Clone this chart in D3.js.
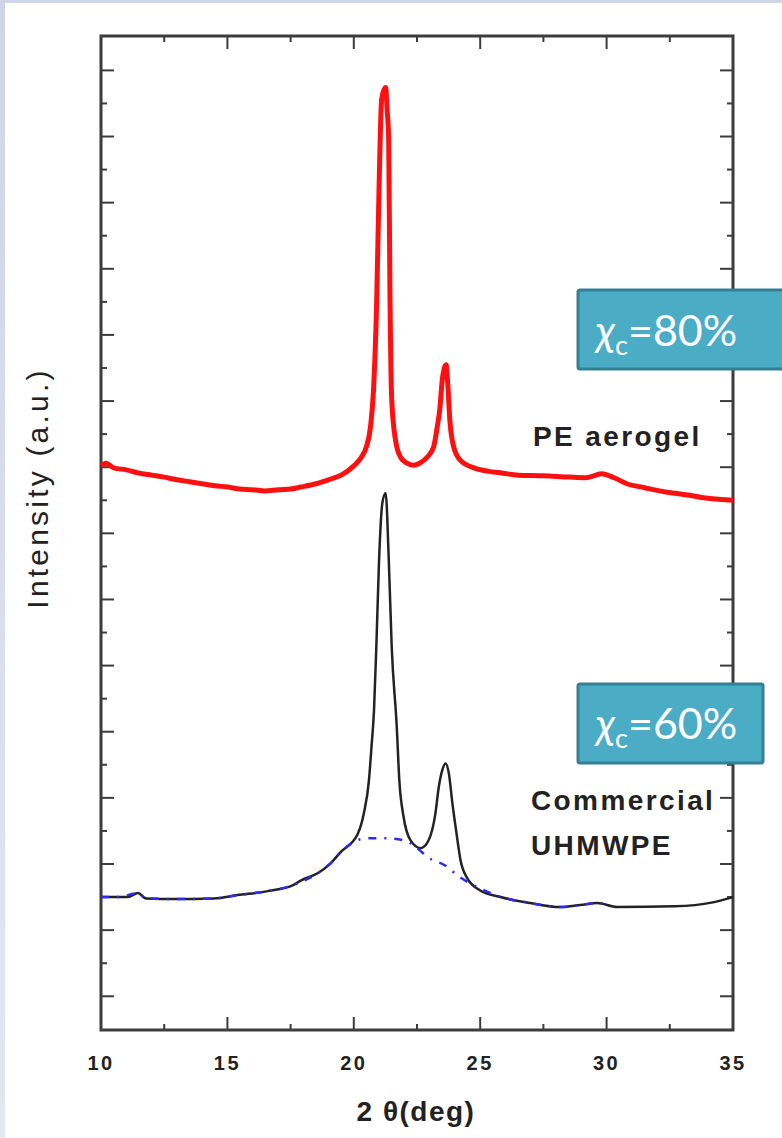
<!DOCTYPE html>
<html>
<head>
  <meta charset="utf-8">
  <title>XRD PE aerogel vs UHMWPE</title>
  <script src="https://d3js.org/d3.v7.min.js"></script>
  <style>
    body { margin: 0; background: #fff; }
    svg { display: block; }
  </style>
</head>
<body>
  <svg width="782" height="1138"></svg>

  <script>
    // PE aerogel (red)
    const aerogelAngle = [10.0, 10.2, 10.5, 11.0, 11.5, 12.0, 12.5, 13.0, 13.5, 14.0, 14.5, 15.0, 15.5, 16.0, 16.5,
      17.0, 17.5, 17.9, 18.5, 19.0, 19.5, 20.0, 20.3, 20.5, 20.66, 20.78, 20.9, 21.0, 21.1, 21.2, 21.26, 21.32,
      21.38, 21.43, 21.5, 21.65, 21.85, 22.1, 22.36, 22.6, 22.9, 23.16, 23.3, 23.4, 23.5, 23.6, 23.65, 23.72,
      23.8, 23.95, 24.2, 24.75, 25.3, 25.9, 26.5, 27.5, 28.5, 29.2, 29.8, 30.3, 30.8, 31.5, 32.4, 33.2, 34.0, 35.0];
    const aerogelIntensity = [8.02, 8.06, 7.99, 7.96, 7.91, 7.88, 7.85, 7.81, 7.78, 7.75, 7.72, 7.70, 7.67, 7.66, 7.64,
      7.66, 7.67, 7.70, 7.75, 7.81, 7.88, 8.02, 8.15, 8.31, 8.61, 9.17, 10.42, 12.24, 13.56, 13.71, 13.74, 13.40,
      12.95, 10.64, 9.02, 8.41, 8.15, 8.06, 8.03, 8.06, 8.15, 8.31, 8.61, 8.87, 9.32, 9.52, 9.55, 9.24,
      8.71, 8.31, 8.11, 7.99, 7.94, 7.91, 7.88, 7.87, 7.85, 7.84, 7.90, 7.84, 7.75, 7.69, 7.62, 7.58, 7.53, 7.50];

    // Commercial UHMWPE (black)
    const uhmwpeAngle = [10.0, 10.67, 11.06, 11.46, 11.78, 12.9, 14.46, 15.4, 16.6, 17.6, 17.9, 18.57, 19.08, 19.48,
      20.15, 20.4, 20.6, 20.7, 20.8, 20.9, 21.0, 21.13, 21.26, 21.38, 21.5, 21.7, 21.8, 21.97, 22.24, 22.64, 22.96,
      23.23, 23.36, 23.5, 23.63, 23.76, 23.9, 24.06, 24.22, 24.48, 25.0, 25.8, 26.98, 28.17, 28.96, 29.63, 30.42,
      32.7, 34.2, 35.0];
    const uhmwpeIntensity = [1.50, 1.50, 1.50, 1.56, 1.48, 1.47, 1.48, 1.53, 1.59, 1.68, 1.75, 1.86, 2.01, 2.18,
      2.45, 2.77, 3.27, 3.77, 4.33, 5.39, 6.60, 7.46, 7.61, 6.64, 5.28, 4.07, 3.27, 2.71, 2.36, 2.24, 2.36,
      2.77, 3.16, 3.42, 3.52, 3.37, 2.92, 2.47, 2.06, 1.79, 1.60, 1.50, 1.41, 1.35, 1.38, 1.41, 1.35,
      1.36, 1.42, 1.50];

    // amorphous halo fit (blue dash-dot)
    const haloAngle = [10.0, 10.67, 11.46, 11.78, 12.9, 14.46, 15.4, 16.6, 17.6, 18.57, 19.08, 19.48, 20.15, 20.6,
      21.2, 21.97, 22.6, 22.9, 23.6, 24.2, 25.0, 25.6, 26.98, 28.17, 28.96, 29.63, 30.0];
    const haloIntensity = [1.50, 1.50, 1.56, 1.48, 1.47, 1.48, 1.53, 1.59, 1.68, 1.86, 2.01, 2.18, 2.36, 2.39,
      2.39, 2.36, 2.21, 2.11, 1.98, 1.80, 1.63, 1.53, 1.41, 1.35, 1.38, 1.41, 1.39];

    const xTicks = [10, 15, 20, 25, 30, 35];
    const xMinorTicks = [12.5, 17.5, 22.5, 27.5, 32.5];
    const yTicks = [0, 1, 2, 3, 4, 5, 6, 7, 8, 9, 10, 11, 12, 13, 14];
    const yMinorTicks = [0.5, 1.5, 2.5, 3.5, 4.5, 5.5, 6.5, 7.5, 8.5, 9.5, 10.5, 11.5, 12.5, 13.5];

    const crystallinity = ["80%", "60%"];

    const svg = d3.select("svg");
    const W = 782, H = 1138;

    // slide background strip
    const defs = svg.append("defs");
    const grad = defs.append("linearGradient").attr("id", "bg").attr("x1", 0).attr("y1", 0).attr("x2", 0).attr("y2", 1);
    grad.append("stop").attr("offset", 0).attr("stop-color", "#cfd4e7");
    grad.append("stop").attr("offset", 1).attr("stop-color", "#e3e7f0");
    svg.append("rect").attr("width", W).attr("height", H).attr("fill", "url(#bg)");
    svg.append("rect").attr("x", 5).attr("y", 3).attr("width", W - 5).attr("height", H - 3).attr("fill", "#fff");

    const pLeft = 101, pRight = 733, pTop = 36, pBottom = 1030;

    const x = d3.scaleLinear().domain([10, 35]).range([pLeft, pRight]);
    const y = d3.scaleLinear().domain([-0.51, 14.52]).range([pBottom, pTop]);

    const frameColor = "#3c3c3c";
    const g = svg.append("g");

    // ticks on all four sides
    const majorLen = 13, minorLen = 6;
    const yt = [...yTicks.map(v => ({ v, len: majorLen })), ...yMinorTicks.map(v => ({ v, len: minorLen }))];
    const xt = [...xTicks.map(v => ({ v, len: majorLen })), ...xMinorTicks.map(v => ({ v, len: minorLen }))];

    g.selectAll("line.yl").data(yt).enter().append("line")
      .attr("x1", pLeft).attr("x2", d => pLeft + d.len)
      .attr("y1", d => y(d.v)).attr("y2", d => y(d.v))
      .attr("stroke", frameColor).attr("stroke-width", 2);
    g.selectAll("line.yr").data(yt).enter().append("line")
      .attr("x1", pRight).attr("x2", d => pRight - d.len)
      .attr("y1", d => y(d.v)).attr("y2", d => y(d.v))
      .attr("stroke", frameColor).attr("stroke-width", 2);
    g.selectAll("line.xb").data(xt).enter().append("line")
      .attr("x1", d => x(d.v)).attr("x2", d => x(d.v))
      .attr("y1", pBottom).attr("y2", d => pBottom - d.len)
      .attr("stroke", frameColor).attr("stroke-width", 2);
    g.selectAll("line.xt").data(xt).enter().append("line")
      .attr("x1", d => x(d.v)).attr("x2", d => x(d.v))
      .attr("y1", pTop).attr("y2", d => pTop + d.len)
      .attr("stroke", frameColor).attr("stroke-width", 2);

    g.append("rect")
      .attr("x", pLeft).attr("y", pTop)
      .attr("width", pRight - pLeft).attr("height", pBottom - pTop)
      .attr("fill", "none").attr("stroke", frameColor).attr("stroke-width", 3);

    // tick labels
    g.selectAll("text.xtl").data(xTicks).enter().append("text")
      .attr("x", d => x(d)).attr("y", 1070)
      .attr("text-anchor", "middle")
      .attr("font-family", "Liberation Sans, Arial, sans-serif")
      .attr("font-weight", "bold").attr("font-size", 20)
      .attr("letter-spacing", 2.5)
      .attr("fill", "#222")
      .text(d => d);

    // axis titles
    svg.append("text")
      .attr("x", 416).attr("y", 1121)
      .attr("text-anchor", "middle")
      .attr("font-family", "Liberation Sans, Arial, sans-serif")
      .attr("font-weight", "bold").attr("font-size", 28)
      .attr("letter-spacing", 1.5)
      .attr("fill", "#222")
      .text("2 θ(deg)");

    svg.append("text")
      .attr("transform", "translate(48,488) rotate(-90)")
      .attr("text-anchor", "middle")
      .attr("font-family", "Liberation Sans, Arial, sans-serif")
      .attr("font-size", 30).attr("letter-spacing", 3.2)
      .attr("fill", "#222")
      .text("Intensity (a.u.)");

    const line = d3.line()
      .x(d => x(d[0]))
      .y(d => y(d[1]))
      .curve(d3.curveMonotoneX);

    const redPts = aerogelAngle.map((a, i) => [a, aerogelIntensity[i]]);
    const blackPts = uhmwpeAngle.map((a, i) => [a, uhmwpeIntensity[i]]);
    const bluePts = haloAngle.map((a, i) => [a, haloIntensity[i]]);

    g.append("path").attr("d", line(redPts))
      .attr("fill", "none").attr("stroke", "#ff1010").attr("stroke-width", 5)
      .attr("stroke-linejoin", "round");

    g.append("path").attr("d", line(blackPts))
      .attr("fill", "none").attr("stroke", "#222").attr("stroke-width", 2.5)
      .attr("stroke-linejoin", "round");

    g.append("path").attr("d", line(bluePts))
      .attr("fill", "none").attr("stroke", "#2a2aff").attr("stroke-width", 2.5)
      .attr("stroke-dasharray", "8,8,2,8");

    // curve labels
    const labelFont = "Liberation Sans, Arial, sans-serif";
    const labels = [
      { t: "PE aerogel", x: 533, y: 446 },
      { t: "Commercial", x: 531, y: 810 },
      { t: "UHMWPE", x: 531, y: 855 }
    ];
    svg.selectAll("text.lab").data(labels).enter().append("text")
      .attr("x", d => d.x).attr("y", d => d.y)
      .attr("font-family", labelFont).attr("font-weight", "bold")
      .attr("font-size", 28).attr("letter-spacing", 2.4)
      .attr("fill", "#222")
      .text(d => d.t);

    // crystallinity boxes
    const boxes = [
      { x: 578, y: 290, w: 210, h: 79, base: 346 },
      { x: 578, y: 684, w: 185, h: 79, base: 739 }
    ];
    boxes.forEach((b, i) => {
      svg.append("rect")
        .attr("x", b.x).attr("y", b.y).attr("width", b.w).attr("height", b.h)
        .attr("rx", 2)
        .attr("fill", "#4bacc6").attr("stroke", "#357f93").attr("stroke-width", 3);
      const t = svg.append("text")
        .attr("x", 596).attr("y", b.base)
        .attr("font-family", "Lato, 'Open Sans', sans-serif")
        .attr("font-size", 43).attr("fill", "#fff");
      t.append("tspan").attr("font-style", "italic").text("χ");
      t.append("tspan").attr("font-size", 27).attr("dy", 9).text("c");
      t.append("tspan").attr("dy", -9).text("=" + crystallinity[i]);
    });
  </script>
</body>
</html>
